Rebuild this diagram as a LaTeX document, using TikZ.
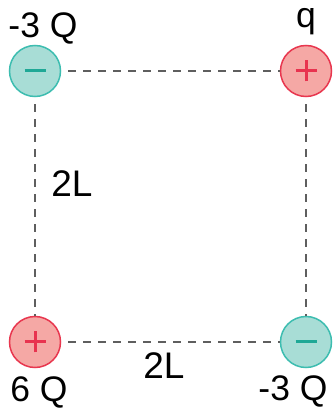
\documentclass[tikz,border=0pt]{standalone}
\usepackage{fontspec}
\setmainfont{Liberation Sans}
\definecolor{negfill}{HTML}{A8DDD6}
\definecolor{negdraw}{HTML}{3DBDB0}
\definecolor{negsign}{HTML}{1FA896}
\definecolor{posfill}{HTML}{F5A8A5}
\definecolor{posdraw}{HTML}{E8374F}
\definecolor{possign}{HTML}{E8334F}
\definecolor{linegray}{HTML}{5E5E5E}
\tikzset{
  negcharge/.style={circle, minimum size=51pt, inner sep=0pt, line width=1.5pt, draw=negdraw, fill=negfill},
  poscharge/.style={circle, minimum size=51pt, inner sep=0pt, line width=1.5pt, draw=posdraw, fill=posfill},
  signline/.style={line width=3pt},
  dashline/.style={draw=linegray, line width=1.3pt, dash pattern=on 8pt off 7pt, dash phase=8pt},
  chargelabel/.style={anchor=base, inner sep=0pt, font=\fontsize{35.5}{40}\selectfont},
  distlabel/.style={anchor=base, inner sep=0pt, font=\fontsize{37}{42}\selectfont}
}
\begin{document}
\begin{tikzpicture}[x=1pt,y=1pt]
\useasboundingbox (0,0) rectangle (333,408);
% charges
\node[negcharge] (tl) at (35,337) {};
\node[poscharge] (tr) at (306,337) {};
\node[poscharge] (bl) at (35,66) {};
\node[negcharge] (br) at (306,66) {};
% connectors
\draw[dashline] (tl) -- (tr);
\draw[dashline] (tl) -- (bl);
\draw[dashline] (bl) -- (br);
\draw[dashline] (tr) -- (br);
% signs
\draw[signline, negsign] ([xshift=-10.5pt]tl.center) -- ([xshift=10.5pt]tl.center);
\draw[signline, negsign] ([xshift=-10.5pt]br.center) -- ([xshift=10.5pt]br.center);
\draw[signline, possign] ([xshift=-10.5pt]tr.center) -- ([xshift=10.5pt]tr.center);
\draw[signline, possign] ([yshift=-10.5pt]tr.center) -- ([yshift=10.5pt]tr.center);
\draw[signline, possign] ([xshift=-10.5pt]bl.center) -- ([xshift=10.5pt]bl.center);
\draw[signline, possign] ([yshift=-10.5pt]bl.center) -- ([yshift=10.5pt]bl.center);
% labels
\node[chargelabel] (ltl) at (43,370) {-3 Q};
\node[chargelabel] (ltr) at (306,380) {q};
\node[chargelabel] (lbl) at (39,6) {6 Q};
\node[chargelabel] (lbr) at (293,8) {-3 Q};
\node[distlabel] (lleft) at (72,211.5) {2L};
\node[distlabel] (lbottom) at (164,30) {2L};
\end{tikzpicture}
\end{document}
